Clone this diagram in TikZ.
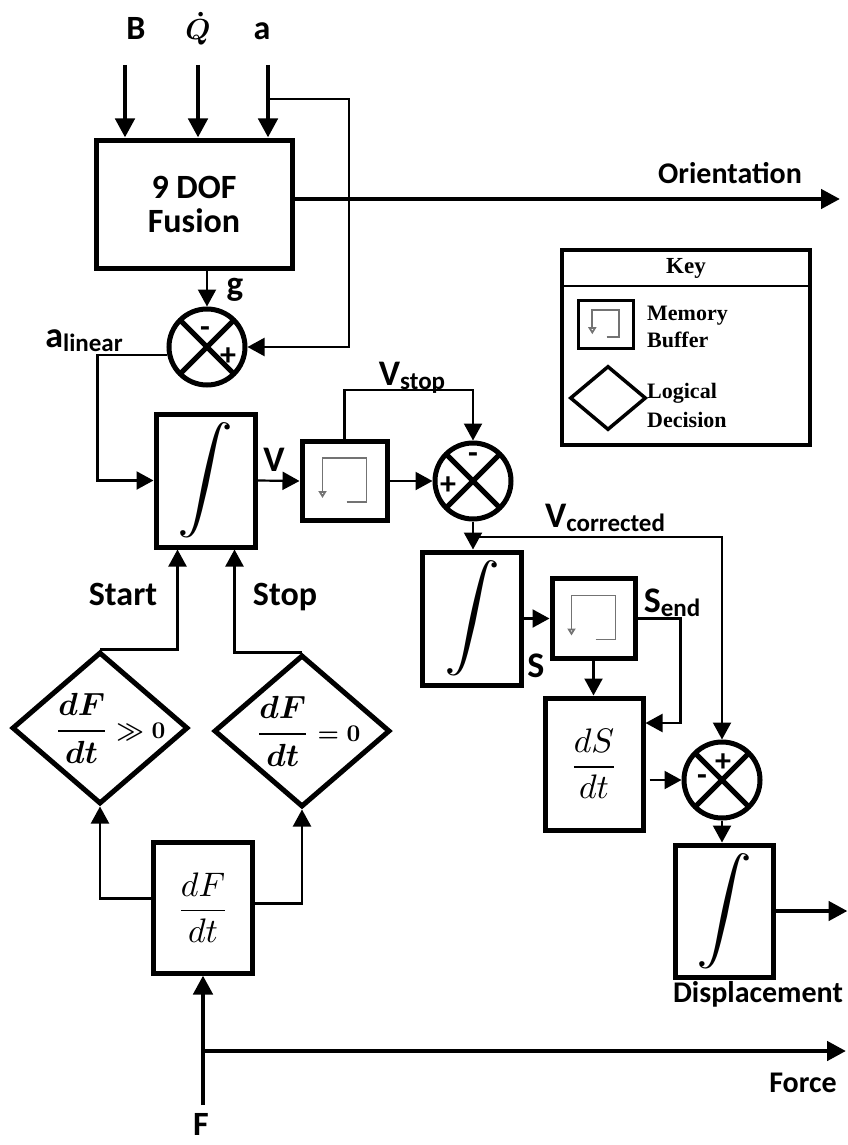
\documentclass[tikz,border=0pt]{standalone}
\usepackage{amsmath}
\usepackage[no-math]{fontspec}
\setmainfont{Carlito}
\newfontfamily\keyfont{Liberation Serif}
\usepackage{graphicx}
\usepackage{tikz}
\usetikzlibrary{positioning,arrows.meta,calc,shapes.geometric}

\newcommand{\fsz}[1]{\fontsize{#1}{#1}\selectfont}
\newcommand{\sublbl}[2]{{\fsz{36}#1}{\fsz{25}\raisebox{-4pt}{#2}}}
\newcommand{\intsign}{\scalebox{5.6}[5.2]{$\displaystyle\int$}}
\newcommand{\bigmath}[2]{\scalebox{#1}{\fsz{10}#2}}

\begin{document}
\begin{tikzpicture}[
  x=1pt, y=-1pt,
  block/.style={rectangle, draw, line width=5pt, inner sep=0pt, align=center},
  integ/.style={block, minimum width=99pt, minimum height=133pt},
  bufline/.style={draw=black!55, line width=1.8pt, -{Triangle[open, length=7pt, width=8pt]}},
  buff/.style={block, path picture={\draw[bufline] ($(path picture bounding box.center)+(#1*2,#1*21)$) -- ++(#1*20,0) -- ++(0,-#1*44) -- ++(-#1*44,0) -- ++(0,#1*40);}},
  sumj/.style={circle, draw, line width=5pt, minimum size=76pt, inner sep=0pt,
    path picture={\draw[line width=5pt] (path picture bounding box.north west) -- (path picture bounding box.south east)
      (path picture bounding box.south west) -- (path picture bounding box.north east);}},
  decision/.style={diamond, draw, line width=5pt, minimum width=176pt, minimum height=152pt, inner sep=0pt},
  lbl/.style={font=\bfseries\fsz{30}, inner sep=0pt},
  sgn/.style={font=\bfseries\fsz{32}, inner sep=0pt},
  arrow/.style={-{Triangle[length=17pt, width=18pt]}, line width=2.2pt},
  bigarrow/.style={-{Triangle[length=19pt, width=19pt]}, line width=4.5pt}
]
  \useasboundingbox (0,0) rectangle (847,1145);

  \node[block, minimum width=196pt, minimum height=128pt, font=\bfseries\fontsize{34}{34}\selectfont] (fusion) at (194,204) {9 DOF\\Fusion};
  \node[sumj] (sum1) at (207,347) {};
  \node[integ] (integ1) at (205.5,480.5) {\intsign};
  \node[buff=1, minimum width=85pt, minimum height=79pt] (buf1) at (344.5,481) {};
  \node[sumj] (sum2) at (473,481) {};
  \node[integ] (integ2) at (472,618.5) {\intsign};
  \node[buff=1, minimum width=83pt, minimum height=80pt] (buf2) at (593.5,618.5) {};
  \node[block, minimum width=98pt, minimum height=132pt] (dSdt) at (594,764) {\bigmath{3.4}{$\dfrac{dS}{dt}$}};
  \node[sumj] (sum3) at (722,780) {};
  \node[integ, minimum width=98pt, minimum height=132pt] (integ3) at (724,911) {\intsign};
  \node[decision] (dec1) at (100,728) {};
  \node[inner sep=0pt] (dec1txt) at (110,728) {\bigmath{3.2}{\boldmath$\dfrac{dF}{dt}$}\bigmath{2.4}{\boldmath${}\gg 0$}};
  \node[decision] (dec2) at (302,731) {};
  \node[inner sep=0pt] (dec2txt) at (308,731) {\bigmath{3.2}{\boldmath$\dfrac{dF}{dt}$}\bigmath{2.4}{\boldmath${}= 0$}};
  \node[block, minimum width=99pt, minimum height=131pt] (dFdt) at (203,907.5) {\bigmath{3.4}{$\dfrac{dF}{dt}$}};

  \node[lbl, anchor=base, font=\bfseries\fsz{34}] (lblB) at (136,40) {B};
  \node[lbl, anchor=base] (lblQ) at (198,40) {\bigmath{2.9}{\boldmath$\dot{Q}$}};
  \node[lbl, anchor=base, font=\bfseries\fsz{34}] (lblA) at (262,40) {a};
  \node[lbl, anchor=base] (lblOrient) at (730,183) {Orientation};
  \node[lbl, anchor=base, font=\bfseries\fsz{35}] (lblG) at (235,295) {g};
  \node[lbl, anchor=base] (lblAlin) at (84,347) {\sublbl{a}{linear}};
  \node[lbl, anchor=base] (lblV) at (274,471) {\fsz{36}V};
  \node[lbl, anchor=base] (lblVstop) at (412,385) {\sublbl{V}{stop}};
  \node[lbl, anchor=base] (lblVcorr) at (605,527) {\sublbl{V}{corrected}};
  \node[lbl, anchor=base] (lblS) at (536,677) {\fsz{36}S};
  \node[lbl, anchor=base] (lblSend) at (672,612) {\sublbl{S}{end}};
  \node[lbl, anchor=base, font=\bfseries\fsz{34}] (lblStart) at (123,605) {Start};
  \node[lbl, anchor=base, font=\bfseries\fsz{34}] (lblStop) at (285,605) {Stop};
  \node[lbl, anchor=base] (lblDisp) at (758,1002) {Displacement};
  \node[lbl, anchor=base] (lblForce) at (803,1092) {Force};
  \node[lbl, anchor=base, font=\bfseries\fsz{34}] (lblF) at (201,1135) {F};

  \node[sgn] (sum1m) at ($(sum1)+(-2,-15)$) {-};
  \node[sgn] (sum1p) at ($(sum1)+(21,10)$) {+};
  \node[sgn] (sum2m) at ($(sum2)+(0,-23)$) {-};
  \node[sgn] (sum2p) at ($(sum2)+(-25,5)$) {+};
  \node[sgn] (sum3p) at ($(sum3)+(1,-17)$) {+};
  \node[sgn] (sum3m) at ($(sum3)+(-20,0)$) {-};

  \node[draw, line width=4pt, minimum width=248pt, minimum height=195pt] (key) at (686,347.5) {};
  \draw[line width=2.5pt] ([yshift=-38pt]key.north west) -- ([yshift=-38pt]key.north east);
  \node[font=\keyfont\bfseries\fsz{23}, inner sep=0pt] (keytitle) at (686,268) {Key};
  \node[buff=0.6, line width=3pt, minimum width=55pt, minimum height=48pt] (keybuf) at (605.5,324) {};
  \node[anchor=west, align=left, inner sep=0pt, font=\keyfont\bfseries\fontsize{22}{27}\selectfont] (keybuftxt) at (647,327) {Memory\\Buffer};
  \node[decision, line width=3.5pt, minimum width=76pt, minimum height=64pt] (keydec) at (608,398) {};
  \node[anchor=west, align=left, inner sep=0pt, font=\keyfont\bfseries\fontsize{22}{29}\selectfont] (keydectxt) at (647,405) {Logical\\Decision};

  \coordinate (inB) at (125,65);
  \coordinate (inA) at (268,65);
  \coordinate (aBr) at (268,99);
  \coordinate (orientEnd) at (840,199);
  \coordinate (vcBr) at (473,537);
  \coordinate (Fin) at (203,1105);
  \coordinate (Fbr) at (203,1051);

  \draw[bigarrow] (inB) -- (inB |- fusion.north);
  \draw[bigarrow] ([yshift=-25pt]lblQ.base) -- (lblQ |- fusion.north);
  \draw[bigarrow] (inA) -- (inA |- fusion.north);
  \draw[arrow] (aBr) -- ++(81,0) |- (sum1.east);
  \draw[bigarrow] ([yshift=5pt]fusion.east) -- (orientEnd);
  \draw[arrow] (sum1 |- fusion.south) -- (sum1.north);
  \draw[arrow] ([yshift=-8pt]sum1.west) -- ++(-69,0) |- (integ1.west);
  \draw[arrow] (integ1.east) -- (buf1.west);
  \draw[arrow] (buf1.north) -- ++(0,-49) -| (sum2.north);
  \draw[arrow] (buf1.east) -- (sum2.west);
  \draw[arrow] (sum2.south) -- (sum2.south |- integ2.north);
  \draw[arrow] (vcBr) -| (sum3.north);
  \draw[arrow] (integ2.east) -- (buf2.west);
  \draw[arrow] (buf2.east) -- ++(43,0) |- ([yshift=41pt]dSdt.east);
  \draw[arrow] (buf2.south) -- (buf2.south |- dSdt.north);
  \draw[arrow, shorten <=4pt] (dSdt.east |- sum3.west) -- (sum3.west);
  \draw[arrow] (sum3.south) -- (sum3.south |- integ3.north);
  \draw[bigarrow] (integ3.east) -- ++(72,0);
  \draw[bigarrow] (Fin) -- (dFdt.south);
  \draw[bigarrow] (Fbr) -- ++(643,0);
  \draw[arrow] ([yshift=9pt]dFdt.west) -| (dec1.south);
  \draw[arrow] ([yshift=4pt]dFdt.east) -| (dec2.south);
  \draw[arrow] (dec1.north) -| ([xshift=-28pt]integ1.south);
  \draw[arrow] (dec2.north) -| ([xshift=29pt]integ1.south);
\end{tikzpicture}
\end{document}
